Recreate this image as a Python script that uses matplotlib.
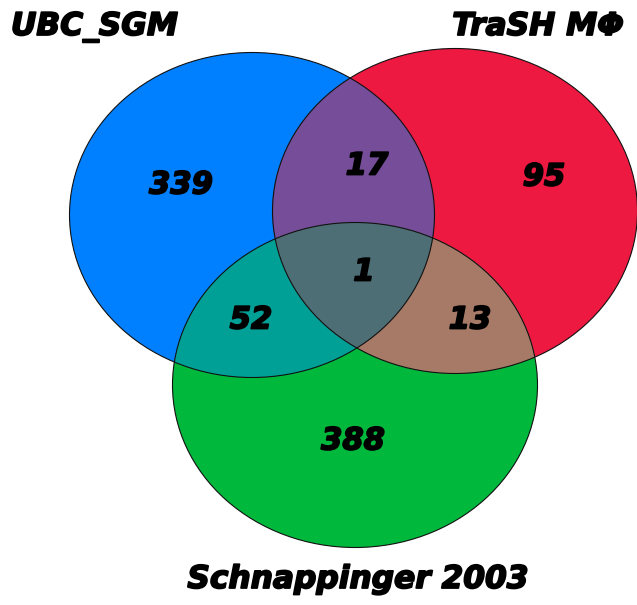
import numpy as np
import matplotlib
matplotlib.use("Agg")
import matplotlib.pyplot as plt
import matplotlib.patheffects as pe
from matplotlib.patches import Ellipse, Polygon

# Mengen und Werte
set_names = ["UBC_SGM", "TraSH MΦ", "Schnappinger 2003"]
only_a, only_b, only_c = 339, 95, 388
ab, ac, bc = 17, 52, 13
abc = 1

# Geometrie der Ellipsen (Pixel)
centers = [(252, 215), (455, 211), (355, 385)]
W, H = 365, 325

col_a, col_b, col_c = "#0080FF", "#ED1941", "#00B93C"
col_ab, col_ac, col_bc = "#754D98", "#00A096", "#A67A66"
col_abc = "#4E6E76"

fig = plt.figure(figsize=(6.37, 6.05), dpi=100)
ax = fig.add_axes([0, 0, 1, 1])
ax.set_xlim(0, 637)
ax.set_ylim(605, 0)
ax.axis("off")


def ell(i, **kw):
    return Ellipse(centers[i], W, H, **kw)


# Einzelflächen
for i, c in enumerate([col_a, col_b, col_c]):
    ax.add_patch(ell(i, facecolor=c, edgecolor="none", zorder=1))

# Paarflächen (geclippt)
for (i, j), c in {(0, 1): col_ab, (0, 2): col_ac, (1, 2): col_bc}.items():
    clip = ell(j, transform=ax.transData, facecolor="none", edgecolor="none")
    ax.add_patch(clip)
    p = ell(i, facecolor=c, edgecolor="none", zorder=2)
    ax.add_patch(p)
    p.set_clip_path(clip)


# Dreifach-Schnitt als konvexes Polygon
def inside(pts, i):
    cx, cy = centers[i]
    return ((pts[:, 0] - cx) / (W / 2)) ** 2 + ((pts[:, 1] - cy) / (H / 2)) ** 2 <= 1 + 1e-9


t = np.linspace(0, 2 * np.pi, 2000)
pts = []
for i in range(3):
    cx, cy = centers[i]
    pts.append(np.column_stack([cx + W / 2 * np.cos(t), cy + H / 2 * np.sin(t)]))
pts = np.vstack(pts)
mask = inside(pts, 0) & inside(pts, 1) & inside(pts, 2)
tri = pts[mask]
m = tri.mean(axis=0)
tri = tri[np.argsort(np.arctan2(tri[:, 1] - m[1], tri[:, 0] - m[0]))]
ax.add_patch(Polygon(tri, closed=True, facecolor=col_abc, edgecolor="none", zorder=3))

# Umrisse
for i in range(3):
    ax.add_patch(ell(i, facecolor="none", edgecolor="#111111", linewidth=0.8, zorder=4))

# dicker Schriftschnitt (Arial Black Ersatz)
heavy = [pe.withStroke(linewidth=1.3, foreground="black")]

# Zahlen
num_style = dict(fontsize=22, fontweight="bold", fontstyle="italic",
                 ha="center", va="center", color="black", zorder=5,
                 path_effects=heavy)
labels_pos = [
    (only_a, (181, 185)), (only_b, (544, 177)), (only_c, (353, 441)),
    (ab, (367, 166)), (ac, (251, 320)), (bc, (470, 320)), (abc, (364, 272)),
]
for val, (x, y) in labels_pos:
    ax.text(x, y, str(val), **num_style)

# Mengen-Beschriftungen
name_style = dict(fontsize=22.5, fontweight="bold", fontstyle="italic",
                  color="black", va="baseline", zorder=5, path_effects=heavy)
ax.text(11, 35, set_names[0], ha="left", **name_style)
ax.text(624, 35, set_names[1], ha="right", **name_style)
ax.text(358, 588, set_names[2], ha="center", **name_style)

fig.savefig("out.png", dpi=100)
